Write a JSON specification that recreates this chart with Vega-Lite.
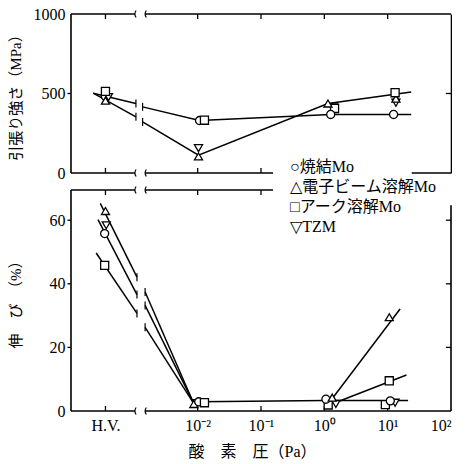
{
  "$schema": "https://vega.github.io/schema/vega-lite/v6.json",
  "background": "white",
  "padding": {"left": 8, "top": 6, "right": 0, "bottom": 0},
  "config": {
    "font": "Liberation Serif, Noto Sans CJK JP",
    "view": {"stroke": null},
    "axis": {"grid": false, "domainColor": "black", "labelColor": "black", "titleColor": "black", "labelFontSize": 16, "titleFontSize": 15, "titleFontWeight": "normal", "domainWidth": 1.6},
    "legend": {"labelFontSize": 16, "labelColor": "black", "labelFont": "Liberation Serif, DejaVu Serif, Noto Sans CJK JP"},
    "point": {"stroke": "black", "strokeWidth": 1.3, "opacity": 1},
    "rule": {"color": "black", "strokeWidth": 1.3}
  },
  "datasets": {
    "one": [{}],
    "tp": [
      {"m": "焼結Mo", "p": 0.00035, "v": 481},
      {"m": "電子ビーム溶解Mo", "p": 0.00035, "v": 455},
      {"m": "TZM", "p": 0.00039, "v": 477},
      {"m": "アーク溶解Mo", "p": 0.00035, "v": 513},
      {"m": "焼結Mo", "p": 0.0107, "v": 330},
      {"m": "アーク溶解Mo", "p": 0.0128, "v": 332},
      {"m": "TZM", "p": 0.0103, "v": 156},
      {"m": "電子ビーム溶解Mo", "p": 0.0103, "v": 104},
      {"m": "TZM", "p": 1.4, "v": 412},
      {"m": "アーク溶解Mo", "p": 1.45, "v": 406},
      {"m": "電子ビーム溶解Mo", "p": 1.14, "v": 437},
      {"m": "焼結Mo", "p": 1.26, "v": 368},
      {"m": "焼結Mo", "p": 12.4, "v": 368},
      {"m": "TZM", "p": 13.5, "v": 442},
      {"m": "電子ビーム溶解Mo", "p": 13.5, "v": 468},
      {"m": "アーク溶解Mo", "p": 13.1, "v": 505}
    ],
    "tl": [
      {"s": "a1", "o": 1, "p": 0.000224, "v": 502, "c": 0},
      {"s": "a1", "o": 2, "p": 0.00106, "v": 437, "c": 1},
      {"s": "b1", "o": 1, "p": 0.000224, "v": 502, "c": 0},
      {"s": "b1", "o": 2, "p": 0.00106, "v": 353, "c": 1},
      {"s": "a2", "o": 1, "p": 0.00135, "v": 416, "c": 1},
      {"s": "a2", "o": 2, "p": 0.0107, "v": 330, "c": 0},
      {"s": "a2", "o": 3, "p": 1.26, "v": 368, "c": 0},
      {"s": "a2", "o": 4, "p": 23.5, "v": 368, "c": 0},
      {"s": "b2", "o": 1, "p": 0.00135, "v": 321, "c": 1},
      {"s": "b2", "o": 2, "p": 0.0103, "v": 112, "c": 0},
      {"s": "b2", "o": 3, "p": 1.14, "v": 437, "c": 0},
      {"s": "b2", "o": 4, "p": 23.5, "v": 510, "c": 0}
    ],
    "tg": [
      {"p": 0.00102, "v": 1000}, {"p": 0.00148, "v": 1000},
      {"p": 0.00102, "v": 0}, {"p": 0.00148, "v": 0}
    ],
    "bp": [
      {"m": "電子ビーム溶解Mo", "p": 0.00035, "v": 62.9},
      {"m": "TZM", "p": 0.00036, "v": 58.4},
      {"m": "焼結Mo", "p": 0.00034, "v": 55.8},
      {"m": "アーク溶解Mo", "p": 0.00034, "v": 45.8},
      {"m": "TZM", "p": 0.0095, "v": 2.5},
      {"m": "電子ビーム溶解Mo", "p": 0.0087, "v": 2.2},
      {"m": "焼結Mo", "p": 0.0104, "v": 2.9},
      {"m": "アーク溶解Mo", "p": 0.0128, "v": 2.6},
      {"m": "アーク溶解Mo", "p": 1.15, "v": 1.9},
      {"m": "TZM", "p": 1.52, "v": 2.2},
      {"m": "焼結Mo", "p": 1.06, "v": 3.7},
      {"m": "電子ビーム溶解Mo", "p": 1.33, "v": 4.2},
      {"m": "アーク溶解Mo", "p": 9.2, "v": 2.0},
      {"m": "TZM", "p": 13.1, "v": 2.6},
      {"m": "焼結Mo", "p": 11.0, "v": 3.2},
      {"m": "アーク溶解Mo", "p": 10.6, "v": 9.5},
      {"m": "電子ビーム溶解Mo", "p": 10.6, "v": 29.5}
    ],
    "bl": [
      {"s": "l1", "o": 1, "p": 0.00029, "v": 65.3, "c": 0},
      {"s": "l1", "o": 2, "p": 0.0011, "v": 42.1, "c": 1},
      {"s": "l2", "o": 1, "p": 0.000267, "v": 60.2, "c": 0},
      {"s": "l2", "o": 2, "p": 0.0011, "v": 36.6, "c": 1},
      {"s": "l3", "o": 1, "p": 0.00025, "v": 49.7, "c": 0},
      {"s": "l3", "o": 2, "p": 0.0011, "v": 30.7, "c": 1},
      {"s": "r1", "o": 1, "p": 0.00148, "v": 37.4, "c": 1},
      {"s": "r1", "o": 2, "p": 0.0087, "v": 2.3, "c": 0},
      {"s": "r2", "o": 1, "p": 0.00148, "v": 33.2, "c": 1},
      {"s": "r2", "o": 2, "p": 0.0087, "v": 2.3, "c": 0},
      {"s": "r3", "o": 1, "p": 0.00148, "v": 26.3, "c": 1},
      {"s": "r3", "o": 2, "p": 0.0087, "v": 2.3, "c": 0},
      {"s": "h", "o": 1, "p": 0.0104, "v": 2.9, "c": 0},
      {"s": "h", "o": 2, "p": 1.06, "v": 3.3, "c": 0},
      {"s": "h", "o": 3, "p": 21, "v": 3.3, "c": 0},
      {"s": "e", "o": 1, "p": 1.31, "v": 3.7, "c": 0},
      {"s": "e", "o": 2, "p": 15.7, "v": 32.1, "c": 0},
      {"s": "a", "o": 1, "p": 1.48, "v": 2.6, "c": 0},
      {"s": "a", "o": 2, "p": 19.8, "v": 11.3, "c": 0}
    ],
    "bg": [
      {"p": 0.00102, "v": 69.5}, {"p": 0.00148, "v": 69.5},
      {"p": 0.00102, "v": 0}, {"p": 0.00148, "v": 0}
    ]
  },
  "bounds": "flush",
  "spacing": 17,
  "resolve": {"scale": {"shape": "shared"}, "legend": {"shape": "shared"}},
  "vconcat": [
    {
      "width": 380,
      "height": 159,
      "data": {"name": "one"},
      "resolve": {"axis": {"x": "independent", "y": "independent"}},
      "layer": [
        {"mark": {"type": "rule", "strokeWidth": 1.6}, "encoding": {"x": {"datum": 0.0001, "type": "quantitative", "scale": {"type": "log", "domain": [0.0001, 100]}, "axis": null}, "x2": {"datum": 0.00102}, "y": {"datum": 1000, "type": "quantitative", "scale": {"domain": [0, 1000]}, "axis": null}}},
        {"mark": {"type": "rule", "strokeWidth": 1.6}, "encoding": {"x": {"datum": 0.00148, "type": "quantitative", "scale": {"type": "log", "domain": [0.0001, 100]}, "axis": null}, "x2": {"datum": 100}, "y": {"datum": 1000, "type": "quantitative", "scale": {"domain": [0, 1000]}, "axis": null}}},
        {"mark": {"type": "rule", "strokeWidth": 1.6}, "encoding": {"x": {"datum": 0.0001, "type": "quantitative", "scale": {"type": "log", "domain": [0.0001, 100]}, "axis": null}, "x2": {"datum": 0.00102}, "y": {"datum": 0, "type": "quantitative", "scale": {"domain": [0, 1000]}, "axis": null}}},
        {"mark": {"type": "rule", "strokeWidth": 1.6}, "encoding": {"x": {"datum": 0.00148, "type": "quantitative", "scale": {"type": "log", "domain": [0.0001, 100]}, "axis": null}, "x2": {"datum": 0.155}, "y": {"datum": 0, "type": "quantitative", "scale": {"domain": [0, 1000]}, "axis": null}}},
        {"mark": {"type": "rule", "strokeWidth": 1.6}, "encoding": {"x": {"datum": 24, "type": "quantitative", "scale": {"type": "log", "domain": [0.0001, 100]}, "axis": null}, "x2": {"datum": 100}, "y": {"datum": 0, "type": "quantitative", "scale": {"domain": [0, 1000]}, "axis": null}}},
        {"mark": {"type": "rule", "strokeWidth": 1.6}, "encoding": {"x": {"datum": 0.0001, "type": "quantitative", "scale": {"type": "log", "domain": [0.0001, 100]}, "axis": null}, "y": {"datum": 0, "type": "quantitative", "scale": {"domain": [0, 1000]}, "axis": null}, "y2": {"datum": 1000}}},
        {"mark": "rule", "encoding": {"x": {"datum": 0.00035, "type": "quantitative", "scale": {"type": "log", "domain": [0.0001, 100]}, "axis": null}, "y": {"datum": 1000, "type": "quantitative", "scale": {"domain": [0, 1000]}, "axis": null}, "y2": {"datum": 968}}},
        {"mark": "rule", "encoding": {"x": {"datum": 0.01, "type": "quantitative", "scale": {"type": "log", "domain": [0.0001, 100]}, "axis": null}, "y": {"datum": 1000, "type": "quantitative", "scale": {"domain": [0, 1000]}, "axis": null}, "y2": {"datum": 968}}},
        {"mark": "rule", "encoding": {"x": {"datum": 0.1, "type": "quantitative", "scale": {"type": "log", "domain": [0.0001, 100]}, "axis": null}, "y": {"datum": 1000, "type": "quantitative", "scale": {"domain": [0, 1000]}, "axis": null}, "y2": {"datum": 968}}},
        {"mark": "rule", "encoding": {"x": {"datum": 1, "type": "quantitative", "scale": {"type": "log", "domain": [0.0001, 100]}, "axis": null}, "y": {"datum": 1000, "type": "quantitative", "scale": {"domain": [0, 1000]}, "axis": null}, "y2": {"datum": 968}}},
        {"mark": "rule", "encoding": {"x": {"datum": 10, "type": "quantitative", "scale": {"type": "log", "domain": [0.0001, 100]}, "axis": null}, "y": {"datum": 1000, "type": "quantitative", "scale": {"domain": [0, 1000]}, "axis": null}, "y2": {"datum": 968}}},
        {"mark": "rule", "encoding": {"x": {"datum": 0.00035, "type": "quantitative", "scale": {"type": "log", "domain": [0.0001, 100]}, "axis": null}, "y": {"datum": 0, "type": "quantitative", "scale": {"domain": [0, 1000]}, "axis": null}, "y2": {"datum": 32}}},
        {"mark": "rule", "encoding": {"x": {"datum": 0.01, "type": "quantitative", "scale": {"type": "log", "domain": [0.0001, 100]}, "axis": null}, "y": {"datum": 0, "type": "quantitative", "scale": {"domain": [0, 1000]}, "axis": null}, "y2": {"datum": 32}}},
        {"mark": "rule", "encoding": {"x": {"datum": 0.1, "type": "quantitative", "scale": {"type": "log", "domain": [0.0001, 100]}, "axis": null}, "y": {"datum": 0, "type": "quantitative", "scale": {"domain": [0, 1000]}, "axis": null}, "y2": {"datum": 32}}},
        {"mark": "rule", "encoding": {"x": {"datum": 0.000088, "type": "quantitative", "scale": {"type": "log", "domain": [0.0001, 100]}, "axis": null}, "x2": {"datum": 0.0001}, "y": {"datum": 500, "type": "quantitative", "scale": {"domain": [0, 1000]}, "axis": null}}},
        {"mark": "rule", "encoding": {"x": {"datum": 83, "type": "quantitative", "scale": {"type": "log", "domain": [0.0001, 100]}, "axis": null}, "x2": {"datum": 100}, "y": {"datum": 500, "type": "quantitative", "scale": {"domain": [0, 1000]}, "axis": null}}},
        {"data": {"name": "tg"},
         "mark": {"type": "point", "shape": "M0.35,-1Q-0.35,0 0.35,1", "size": 49, "strokeWidth": 1.2, "filled": false},
         "encoding": {"x": {"field": "p", "type": "quantitative", "scale": {"type": "log", "domain": [0.0001, 100]}, "axis": null}, "y": {"field": "v", "type": "quantitative", "scale": {"domain": [0, 1000]}, "axis": null}}},
        {"data": {"name": "tl"},
         "mark": {"type": "line", "color": "black", "strokeWidth": 1.5},
         "encoding": {
           "x": {"field": "p", "type": "quantitative", "scale": {"type": "log", "domain": [0.0001, 100]}, "axis": null},
           "y": {"field": "v", "type": "quantitative", "scale": {"domain": [0, 1000]}, "axis": {"orient": "right", "values": [500], "labels": false, "ticks": false, "domain": true, "title": null}},
           "detail": {"field": "s"},
           "order": {"field": "o"}
         }},
        {"data": {"name": "tl"},
         "transform": [{"filter": "datum.c == 1"}],
         "mark": {"type": "point", "shape": "M0,-1L0,1", "size": 64, "strokeWidth": 1.2, "filled": false},
         "encoding": {"x": {"field": "p", "type": "quantitative", "scale": {"type": "log", "domain": [0.0001, 100]}, "axis": null}, "y": {"field": "v", "type": "quantitative", "scale": {"domain": [0, 1000]}, "axis": null}}},
        {"data": {"name": "tp"},
         "mark": {"type": "point", "filled": false, "fill": "white", "size": 65},
         "encoding": {
           "x": {"field": "p", "type": "quantitative", "scale": {"type": "log", "domain": [0.0001, 100]}, "axis": null},
           "y": {"field": "v", "type": "quantitative", "scale": {"domain": [0, 1000]}, "axis": {"orient": "left", "values": [0, 500, 1000], "format": "d", "ticks": false, "labelPadding": 6, "domain": false, "title": "引張り強さ（MPa）", "titleX": -48}},
           "shape": {"field": "m", "type": "nominal", "scale": {"domain": ["焼結Mo", "電子ビーム溶解Mo", "アーク溶解Mo", "TZM"], "range": ["circle", "triangle-up", "square", "triangle-down"]},
             "legend": {"title": null, "orient": "none", "legendX": 203, "legendY": 145, "symbolSize": 0, "symbolOpacity": 0, "symbolStrokeWidth": 0, "rowPadding": 4, "labelOffset": 0, "padding": 0,
               "labelExpr": "datum.label == '焼結Mo' ? '○焼結Mo' : datum.label == 'TZM' ? '▽TZM' : datum.label == 'アーク溶解Mo' ? '□アーク溶解Mo' : '△電子ビーム溶解Mo'"}}
         }}
      ]
    },
    {
      "width": 380,
      "height": 221,
      "data": {"name": "one"},
      "resolve": {"axis": {"x": "independent", "y": "independent"}},
      "layer": [
        {"mark": {"type": "rule", "strokeWidth": 1.6}, "encoding": {"x": {"datum": 0.0001, "type": "quantitative", "scale": {"type": "log", "domain": [0.0001, 100]}, "axis": null}, "x2": {"datum": 0.00102}, "y": {"datum": 69.5, "type": "quantitative", "scale": {"domain": [0, 69.5]}, "axis": null}}},
        {"mark": {"type": "rule", "strokeWidth": 1.6}, "encoding": {"x": {"datum": 0.00148, "type": "quantitative", "scale": {"type": "log", "domain": [0.0001, 100]}, "axis": null}, "x2": {"datum": 0.155}, "y": {"datum": 69.5, "type": "quantitative", "scale": {"domain": [0, 69.5]}, "axis": null}}},
        {"mark": {"type": "rule", "strokeWidth": 1.6}, "encoding": {"x": {"datum": 0.0001, "type": "quantitative", "scale": {"type": "log", "domain": [0.0001, 100]}, "axis": null}, "x2": {"datum": 0.00102}, "y": {"datum": 0, "type": "quantitative", "scale": {"domain": [0, 69.5]}, "axis": null}}},
        {"mark": {"type": "rule", "strokeWidth": 1.6}, "encoding": {"x": {"datum": 0.00148, "type": "quantitative", "scale": {"type": "log", "domain": [0.0001, 100]}, "axis": null}, "x2": {"datum": 100}, "y": {"datum": 0, "type": "quantitative", "scale": {"domain": [0, 69.5]}, "axis": null}}},
        {"mark": {"type": "rule", "strokeWidth": 1.6}, "encoding": {"x": {"datum": 100, "type": "quantitative", "scale": {"type": "log", "domain": [0.0001, 100]}, "axis": null}, "y": {"datum": 0, "type": "quantitative", "scale": {"domain": [0, 69.5]}, "axis": null}, "y2": {"datum": 64.7}}},
        {"mark": {"type": "rule", "strokeWidth": 1.6}, "encoding": {"x": {"datum": 0.0001, "type": "quantitative", "scale": {"type": "log", "domain": [0.0001, 100]}, "axis": null}, "y": {"datum": 0, "type": "quantitative", "scale": {"domain": [0, 69.5]}, "axis": null}, "y2": {"datum": 69.5}}},
        {"mark": "rule", "encoding": {"x": {"datum": 0.00035, "type": "quantitative", "scale": {"type": "log", "domain": [0.0001, 100]}, "axis": null}, "y": {"datum": 69.5, "type": "quantitative", "scale": {"domain": [0, 69.5]}, "axis": null}, "y2": {"datum": 67.9}}},
        {"mark": "rule", "encoding": {"x": {"datum": 0.01, "type": "quantitative", "scale": {"type": "log", "domain": [0.0001, 100]}, "axis": null}, "y": {"datum": 69.5, "type": "quantitative", "scale": {"domain": [0, 69.5]}, "axis": null}, "y2": {"datum": 67.9}}},
        {"mark": "rule", "encoding": {"x": {"datum": 0.1, "type": "quantitative", "scale": {"type": "log", "domain": [0.0001, 100]}, "axis": null}, "y": {"datum": 69.5, "type": "quantitative", "scale": {"domain": [0, 69.5]}, "axis": null}, "y2": {"datum": 67.9}}},
        {"mark": "rule", "encoding": {"x": {"datum": 0.00035, "type": "quantitative", "scale": {"type": "log", "domain": [0.0001, 100]}, "axis": null}, "y": {"datum": 0, "type": "quantitative", "scale": {"domain": [0, 69.5]}, "axis": null}, "y2": {"datum": 1.6}}},
        {"mark": "rule", "encoding": {"x": {"datum": 0.01, "type": "quantitative", "scale": {"type": "log", "domain": [0.0001, 100]}, "axis": null}, "y": {"datum": 0, "type": "quantitative", "scale": {"domain": [0, 69.5]}, "axis": null}, "y2": {"datum": 1.6}}},
        {"mark": "rule", "encoding": {"x": {"datum": 0.1, "type": "quantitative", "scale": {"type": "log", "domain": [0.0001, 100]}, "axis": null}, "y": {"datum": 0, "type": "quantitative", "scale": {"domain": [0, 69.5]}, "axis": null}, "y2": {"datum": 1.6}}},
        {"mark": "rule", "encoding": {"x": {"datum": 1, "type": "quantitative", "scale": {"type": "log", "domain": [0.0001, 100]}, "axis": null}, "y": {"datum": 0, "type": "quantitative", "scale": {"domain": [0, 69.5]}, "axis": null}, "y2": {"datum": 1.6}}},
        {"mark": "rule", "encoding": {"x": {"datum": 10, "type": "quantitative", "scale": {"type": "log", "domain": [0.0001, 100]}, "axis": null}, "y": {"datum": 0, "type": "quantitative", "scale": {"domain": [0, 69.5]}, "axis": null}, "y2": {"datum": 1.6}}},
        {"mark": "rule", "encoding": {"x": {"datum": 0.000088, "type": "quantitative", "scale": {"type": "log", "domain": [0.0001, 100]}, "axis": null}, "x2": {"datum": 0.0001}, "y": {"datum": 20, "type": "quantitative", "scale": {"domain": [0, 69.5]}, "axis": null}}},
        {"mark": "rule", "encoding": {"x": {"datum": 0.000088, "type": "quantitative", "scale": {"type": "log", "domain": [0.0001, 100]}, "axis": null}, "x2": {"datum": 0.0001}, "y": {"datum": 40, "type": "quantitative", "scale": {"domain": [0, 69.5]}, "axis": null}}},
        {"mark": "rule", "encoding": {"x": {"datum": 0.000088, "type": "quantitative", "scale": {"type": "log", "domain": [0.0001, 100]}, "axis": null}, "x2": {"datum": 0.0001}, "y": {"datum": 60, "type": "quantitative", "scale": {"domain": [0, 69.5]}, "axis": null}}},
        {"mark": "rule", "encoding": {"x": {"datum": 83, "type": "quantitative", "scale": {"type": "log", "domain": [0.0001, 100]}, "axis": null}, "x2": {"datum": 100}, "y": {"datum": 20, "type": "quantitative", "scale": {"domain": [0, 69.5]}, "axis": null}}},
        {"mark": "rule", "encoding": {"x": {"datum": 83, "type": "quantitative", "scale": {"type": "log", "domain": [0.0001, 100]}, "axis": null}, "x2": {"datum": 100}, "y": {"datum": 40, "type": "quantitative", "scale": {"domain": [0, 69.5]}, "axis": null}}},
        {"mark": "rule", "encoding": {"x": {"datum": 83, "type": "quantitative", "scale": {"type": "log", "domain": [0.0001, 100]}, "axis": null}, "x2": {"datum": 100}, "y": {"datum": 60, "type": "quantitative", "scale": {"domain": [0, 69.5]}, "axis": null}}},
        {"data": {"name": "bg"},
         "mark": {"type": "point", "shape": "M0.35,-1Q-0.35,0 0.35,1", "size": 49, "strokeWidth": 1.2, "filled": false},
         "encoding": {"x": {"field": "p", "type": "quantitative", "scale": {"type": "log", "domain": [0.0001, 100]}, "axis": null}, "y": {"field": "v", "type": "quantitative", "scale": {"domain": [0, 69.5]}, "axis": null}}},
        {"data": {"name": "bl"},
         "mark": {"type": "line", "color": "black", "strokeWidth": 1.5},
         "encoding": {
           "x": {"field": "p", "type": "quantitative", "scale": {"type": "log", "domain": [0.0001, 100]}, "axis": null},
           "y": {"field": "v", "type": "quantitative", "scale": {"domain": [0, 69.5]}, "axis": null},
           "detail": {"field": "s"},
           "order": {"field": "o"}
         }},
        {"data": {"name": "bl"},
         "transform": [{"filter": "datum.c == 1"}],
         "mark": {"type": "point", "shape": "M0,-1L0,1", "size": 64, "strokeWidth": 1.2, "filled": false},
         "encoding": {"x": {"field": "p", "type": "quantitative", "scale": {"type": "log", "domain": [0.0001, 100]}, "axis": null}, "y": {"field": "v", "type": "quantitative", "scale": {"domain": [0, 69.5]}, "axis": null}}},
        {"data": {"name": "bp"},
         "mark": {"type": "point", "filled": false, "fill": "white", "size": 65},
         "encoding": {
           "x": {"field": "p", "type": "quantitative", "scale": {"type": "log", "domain": [0.0001, 100]}, "axis": {"orient": "bottom", "values": [0.00035, 0.01, 0.1, 1, 10, 100], "labelExpr": "datum.value < 0.001 ? 'H.V.' : datum.value < 0.05 ? '10⁻²' : datum.value < 0.5 ? '10⁻¹' : datum.value < 5 ? '10⁰' : datum.value < 50 ? '10¹' : '10²'", "ticks": false, "labelPadding": 6, "domain": false, "title": "酸　素　圧（Pa）", "titleFontSize": 16, "titlePadding": 10, "titleX": 181}},
           "y": {"field": "v", "type": "quantitative", "scale": {"domain": [0, 69.5]}, "axis": {"orient": "left", "values": [0, 20, 40, 60], "ticks": false, "labelPadding": 6, "domain": false, "title": "伸　び　（%）", "titleX": -48}},
           "shape": {"field": "m", "type": "nominal", "scale": {"domain": ["焼結Mo", "電子ビーム溶解Mo", "アーク溶解Mo", "TZM"], "range": ["circle", "triangle-up", "square", "triangle-down"]},
             "legend": {"title": null, "orient": "none", "legendX": 203, "legendY": 145, "symbolSize": 0, "symbolOpacity": 0, "symbolStrokeWidth": 0, "rowPadding": 4, "labelOffset": 0, "padding": 0,
               "labelExpr": "datum.label == '焼結Mo' ? '○焼結Mo' : datum.label == 'TZM' ? '▽TZM' : datum.label == 'アーク溶解Mo' ? '□アーク溶解Mo' : '△電子ビーム溶解Mo'"}}
         }}
      ]
    }
  ]
}
